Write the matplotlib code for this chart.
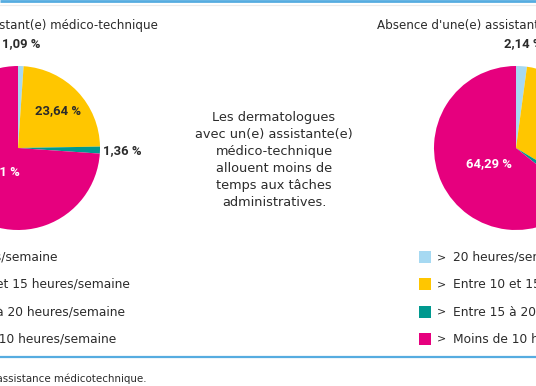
import numpy as np
import matplotlib
matplotlib.use("Agg")
from matplotlib import pyplot as plt
from matplotlib.patches import Rectangle

plt.rcParams['font.family'] = ['DejaVu Sans']

# data
categories = ["20 heures/semaine", "Entre 10 et 15 heures/semaine",
              "Entre 15 à 20 heures/semaine", "Moins de 10 heures/semaine"]
with_amt = [1.09, 23.64, 1.36, 73.91]
without_amt = [2.14, 31.43, 2.14, 64.29]
titles = ["Présence d'un(e) assistant(e) médico-technique",
          "Absence d'une(e) assistant(e) médico-technique"]
message = ("Les dermatologues\navec un(e) assistante(e)\nmédico-technique\n"
           "allouent moins de\ntemps aux tâches\nadministratives.")
footnote = "* AMT : assistance médicotechnique."

colors = ["#a6d9f2", "#ffc600", "#00998f", "#e6007e"]
line_blue = "#56ace0"
text_col = "#2b2b2b"

W, H = 536, 386
fig = plt.figure(figsize=(W / 100, H / 100), dpi=100)
fig.patch.set_facecolor("white")

R = 82


def draw_pie(cx, cy, values):
    ax = fig.add_axes([(cx - R) / W, (H - cy - R) / H, 2 * R / W, 2 * R / H])
    wedges, _ = ax.pie(values, colors=colors, startangle=90, counterclock=False,
                       radius=1, wedgeprops=dict(linewidth=0))
    ax.set_xlim(-1, 1)
    ax.set_ylim(-1, 1)
    ax.axis("off")
    for i, (w, v) in enumerate(zip(wedges, values)):
        ang = np.deg2rad((w.theta1 + w.theta2) / 2)
        dy = 0
        if v < 5:
            r, col = 1.27, text_col
        elif i == 3:
            r, col, dy = 0.36, "white", -0.04
        else:
            r, col = 0.67, text_col
        ax.text(r * np.cos(ang), r * np.sin(ang) + dy, ("%.2f %%" % v).replace(".", ","),
                ha="center", va="center", fontsize=9.4, fontweight="bold", color=col,
                family="Roboto", clip_on=False)
    return ax


centers = [(18, 148), (516, 148)]
draw_pie(*centers[0], with_amt)
draw_pie(*centers[1], without_amt)

ov = fig.add_axes([0, 0, 1, 1], zorder=5)
ov.set_xlim(0, W)
ov.set_ylim(H, 0)
ov.axis("off")
ov.patch.set_alpha(0)

# frame lines
ov.plot([0, W], [0.8, 0.8], color=line_blue, lw=2, solid_capstyle="butt")
ov.plot([0, W], [5, 5], color="#ececec", lw=0.8)
ov.plot([0, W], [357, 357], color=line_blue, lw=1.6)

# titles
ov.text(158, 25, titles[0], ha="right", va="center", fontsize=8.6, color=text_col)
ov.text(377, 25, titles[1], ha="left", va="center", fontsize=8.6, color=text_col)

# message
ov.text(274, 160, message, ha="center", va="center", fontsize=9.25,
        color=text_col, linespacing=1.4)

# legends
legend_x = [-112, -97]
for (cx, _), lx in zip(centers, legend_x):
    for k, (lab, c) in enumerate(zip(categories, colors)):
        y = 257 + 27.3 * k
        ov.add_patch(Rectangle((cx + lx, y - 6), 12, 12, facecolor=c, edgecolor="none"))
        ov.text(cx + lx + 18, y, ">", ha="left", va="center", fontsize=8, color=text_col)
        ov.text(cx + lx + 34, y, lab, ha="left", va="center", fontsize=8.8, color=text_col)

ov.text(147, 379, footnote, ha="right", va="center", fontsize=7.4, color=text_col)

fig.savefig("out.png", dpi=100, facecolor="white")
